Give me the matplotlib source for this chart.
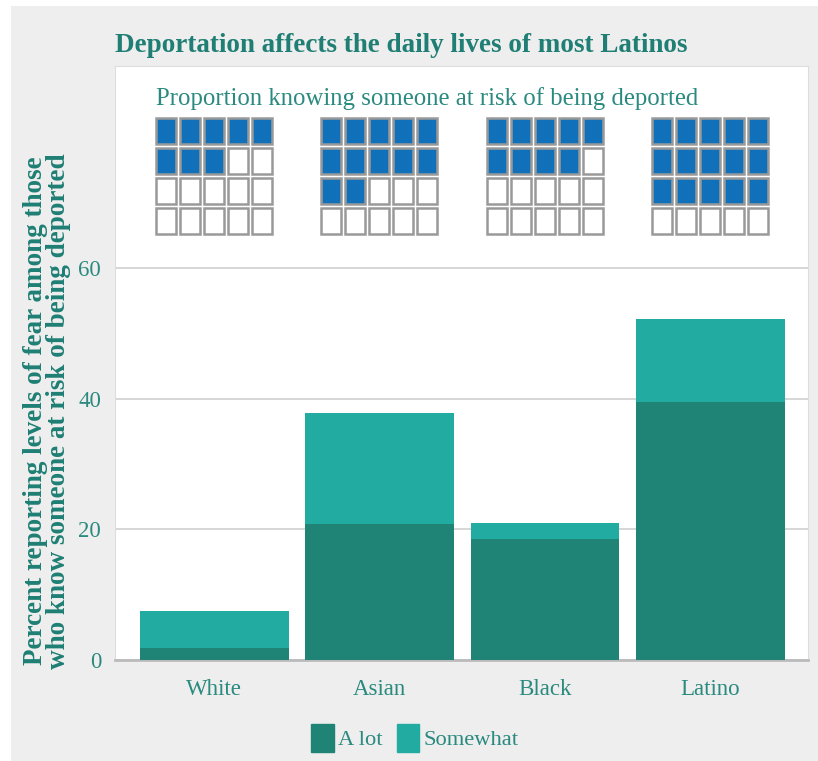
import matplotlib.pyplot as plt
from matplotlib.patches import Rectangle
import numpy as np

# ---- data ----
groups = ['White', 'Asian', 'Black', 'Latino']
a_lot = [1.8, 20.9, 18.6, 39.5]
somewhat = [5.7, 17.0, 2.4, 12.8]
# proportion knowing someone at risk of being deported (percent, 5% per cell)
know_pct = [40, 60, 45, 75]

teal = '#1f7f74'
text_teal = '#2a8a7f'
dark = '#1f8475'
light = '#22aba1'
blue = '#1071ba'

plt.rcParams['font.family'] = ['Liberation Serif', 'DejaVu Serif']

fig = plt.figure(figsize=(8.18, 7.61), dpi=100)
fig.patch.set_facecolor('white')
# gray card behind the chart
fig.patches.append(Rectangle((11/818, 0), 1, (761-6)/761, transform=fig.transFigure,
                             facecolor='#eeeeee', edgecolor='none', zorder=-10))

ax = fig.add_axes([115/818, (761-660)/761, (808-115)/818, (660-66)/761])
ax.set_facecolor('white')

x = np.arange(len(groups))
ax.bar(x, a_lot, width=0.9, color=dark, zorder=3)
ax.bar(x, somewhat, width=0.9, bottom=a_lot, color=light, zorder=3)

ax.set_xlim(-0.6, 3.59)
ax.set_ylim(0, 91)
ax.set_yticks([0, 20, 40, 60])
ax.yaxis.grid(True, color='#d0d0d0', linewidth=1.2)
ax.set_xticks(x)
ax.set_xticklabels(groups)
ax.tick_params(axis='both', length=0, colors=text_teal, labelsize=16.5)
ax.tick_params(axis='x', pad=14)
ax.tick_params(axis='y', pad=10)
for s in ['top', 'right', 'left']:
    ax.spines[s].set_color('#dddddd')
ax.spines['bottom'].set_color('#bbbbbb')
ax.spines['bottom'].set_linewidth(2)

# y label sits a little lower than the axes centre in the reference
fig.text(47/818, (761-411)/761,
         'Percent reporting levels of fear among those\nwho know someone at risk of being deported',
         fontsize=19.5, fontweight='bold', color=teal, rotation=90,
         ha='center', va='center', linespacing=0.85)

# waffle grids: 5 columns x 4 rows, each cell = 5%
pitch_x, pitch_y = 0.145, 4.6
cw, ch = 0.121, 4.0
top = 83.0
for i, pct in enumerate(know_pct):
    n_fill = int(round(pct / 5))
    left = x[i] - 0.353
    for k in range(20):
        r, c = divmod(k, 5)
        fc = blue if k < n_fill else 'white'
        ax.add_patch(Rectangle((left + c * pitch_x, top - (r + 1) * pitch_y + (pitch_y - ch)),
                               cw, ch, facecolor=fc, edgecolor='#999999', linewidth=1.8,
                               zorder=4))

ax.text(-0.35, 86, 'Proportion knowing someone at risk of being deported',
        fontsize=17.8, color=text_teal, va='center', ha='left')

fig.text(115/818, (761-45)/761, 'Deportation affects the daily lives of most Latinos',
         fontsize=19.5, fontweight='bold', color=teal, ha='left', va='center')

# legend
handles = [Rectangle((0, 0), 1, 1, color=dark), Rectangle((0, 0), 1, 1, color=light)]
leg = fig.legend(handles, ['A lot', 'Somewhat'], loc='center', bbox_to_anchor=(415/818, (761-738)/761),
                 ncol=2, frameon=False, fontsize=16.2, handlelength=1.0, handleheight=1.5,
                 handletextpad=0.2, columnspacing=0.6)
for t in leg.get_texts():
    t.set_color(text_teal)

fig.savefig('out.png', dpi=100)
